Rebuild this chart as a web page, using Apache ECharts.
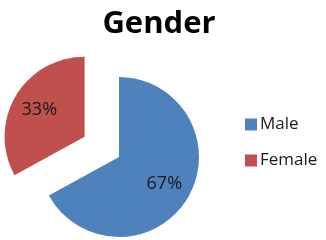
<!DOCTYPE html>
<html><head><meta charset="utf-8">
<script src="https://cdn.jsdelivr.net/npm/echarts@6/dist/echarts.min.js"></script>
<style>html,body{margin:0;padding:0;background:#fff}#c{width:326px;height:240px}</style>
</head><body><div id="c"></div>
<script>
var categories = ['Male', 'Female'];
var values = [67, 33];
var colors = ['#4F81BD', '#C0504D'];
var titleText = 'Gender';

var R = 80;
var total = values.reduce(function (a, b) { return a + b; }, 0);
function midAngle(i) {
  var s = 0;
  for (var k = 0; k < i; k++) s += values[k];
  return (s + values[i] / 2) / total * 2 * Math.PI;
}

var chart = echarts.init(document.getElementById('c'), null, {renderer: 'canvas'});
chart.setOption({
  animation: false,
  title: {
    text: titleText, left: 154, top: 4, textAlign: 'center',
    textStyle: {fontFamily: 'Open Sans', fontWeight: 'bold', fontSize: 31, color: '#000'}
  },
  legend: {
    orient: 'vertical', left: 240, top: 111, itemWidth: 12, itemHeight: 12, itemGap: 19,
    icon: 'rect', data: categories,
    textStyle: {fontFamily: 'Open Sans', fontSize: 17, color: '#1a1a1a', padding: [0,0,0,-2]}
  },
  series: [{
    type: 'pie', radius: R, center: [119, 157], startAngle: 90, clockwise: true,
    selectedMode: 'single', selectedOffset: 40,
    label: {position: 'inside', formatter: '{d}%', fontFamily: 'Open Sans', fontSize: 18, color: '#1a1a1a'},
    labelLine: {show: false},
    labelLayout: function (p) {
      var a = midAngle(p.dataIndex);
      var d = 0.12 * R;
      return {dx: d * Math.sin(a), dy: -d * Math.cos(a)};
    },
    emphasis: {disabled: true},
    data: categories.map(function (c, i) {
      return {name: c, value: values[i], selected: i === 1, itemStyle: {color: colors[i]}};
    })
  }]
});
</script></body></html>
